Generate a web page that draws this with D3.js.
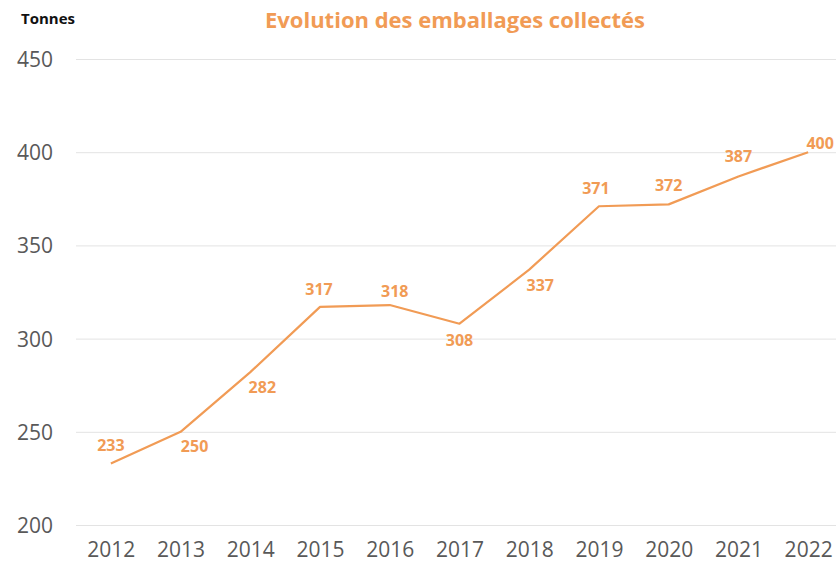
<!DOCTYPE html>
<html>
<head>
<meta charset="utf-8">
<script src="https://cdn.jsdelivr.net/npm/d3@7"></script>
<style>
  body { margin: 0; background: #fff; }
  svg { display: block; font-family: "Open Sans", sans-serif; }
</style>
</head>
<body>
<script>
const years = ['2012', '2013', '2014', '2015', '2016', '2017', '2018', '2019', '2020', '2021', '2022'];
const tonnes = [233, 250, 282, 317, 318, 308, 337, 371, 372, 387, 400];
const yTicks = [200, 250, 300, 350, 400, 450];

// where each value label sits relative to its point [dx, dy]
const labelOffsets = [
  [0, -18], [14, 14], [12, 15], [-1, -18], [5, -14], [0, 17],
  [11, 16], [-3, -18], [0, -19], [0, -20], [12, -9]
];

const width = 836;
const height = 570;
const orange = '#F19B55';
const font = '"Open Sans", sans-serif';

const svg = d3.select('body')
  .append('svg')
  .attr('width', width)
  .attr('height', height);

const x = d3.scalePoint()
  .domain(years)
  .range([76, 843])
  .padding(0.5);

const y = d3.scaleLinear()
  .domain([200, 450])
  .range([525, 59]);

// gridlines
svg.append('g')
  .selectAll('line')
  .data(yTicks)
  .join('line')
  .attr('x1', 76)
  .attr('x2', width)
  .attr('y1', (d) => y(d) + 0.5)
  .attr('y2', (d) => y(d) + 0.5)
  .attr('stroke', '#e3e3e3')
  .attr('stroke-width', 1);

// y axis labels
const yAxis = svg.append('g')
  .attr('transform', 'translate(57,0)')
  .call(d3.axisLeft(y).tickValues(yTicks).tickSize(0).tickPadding(4));
yAxis.select('.domain').remove();
yAxis.selectAll('text')
  .attr('fill', '#595959')
  .attr('dy', '0.36em')
  .style('font-size', '21px')
  .style('font-family', font);

// x axis labels
const xAxis = svg.append('g')
  .attr('transform', 'translate(0,542)')
  .call(d3.axisBottom(x).tickSize(0).tickPadding(0));
xAxis.select('.domain').remove();
xAxis.selectAll('text')
  .attr('fill', '#595959')
  .style('font-size', '21px')
  .style('font-family', font);

// line
const line = d3.line()
  .x((d, i) => x(years[i]))
  .y((d) => y(d));

svg.append('path')
  .datum(tonnes)
  .attr('fill', 'none')
  .attr('stroke', orange)
  .attr('stroke-width', 2.2)
  .attr('stroke-linejoin', 'round')
  .attr('d', line);

// value labels
svg.append('g')
  .selectAll('text')
  .data(tonnes)
  .join('text')
  .attr('x', (d, i) => x(years[i]) + labelOffsets[i][0])
  .attr('y', (d, i) => y(d) + labelOffsets[i][1])
  .attr('dy', '0.36em')
  .attr('text-anchor', 'middle')
  .attr('fill', orange)
  .style('font-size', '16px')
  .style('font-weight', 'bold')
  .text((d) => d);

// title
svg.append('text')
  .attr('x', 455)
  .attr('y', 28)
  .attr('text-anchor', 'middle')
  .attr('fill', orange)
  .style('font-size', '22px')
  .style('font-weight', 'bold')
  .text('Evolution des emballages collectés');

// unit label
svg.append('text')
  .attr('x', 21)
  .attr('y', 24)
  .attr('fill', '#111')
  .style('font-size', '15px')
  .style('font-weight', 'bold')
  .text('Tonnes');
</script>
</body>
</html>
